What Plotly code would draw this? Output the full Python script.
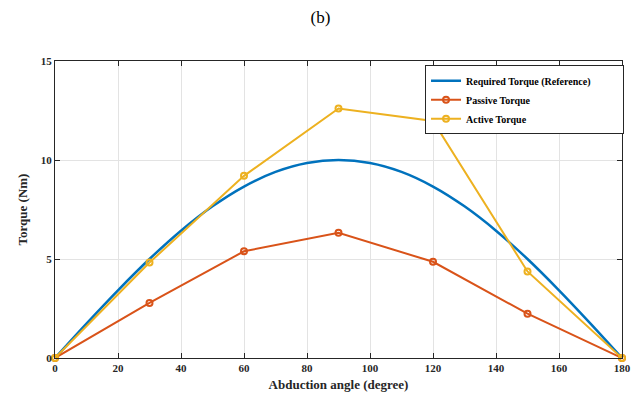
import plotly.graph_objects as go

# Data
ref_angle = [0, 10, 20, 30, 40, 50, 60, 70, 80, 90, 100, 110, 120, 130, 140, 150, 160, 170, 180]
ref_torque = [0, 1.74, 3.42, 5.0, 6.43, 7.66, 8.66, 9.40, 9.85, 10.0, 9.85, 9.40, 8.66, 7.66, 6.43, 5.0, 3.42, 1.74, 0]

angles = [0, 30, 60, 90, 120, 150, 180]
passive_torque = [0, 2.78, 5.39, 6.32, 4.86, 2.24, 0]
active_torque = [0, 4.82, 9.2, 12.6, 11.97, 4.37, 0]

x_ticks = [0, 20, 40, 60, 80, 100, 120, 140, 160, 180]
y_ticks = [0, 5, 10, 15]

BLUE = "#0072BD"
ORANGE = "#D95319"
YELLOW = "#EDB120"
FONT = "Liberation Serif"

# The page body has an 8px margin, so the figure is sized to fit inside the window.
W, H = 625, 387

fig = go.Figure()
fig.add_trace(go.Scatter(
    x=ref_angle, y=ref_torque, mode="lines",
    name="<b>Required Torque (Reference)</b>" + "&nbsp;" * 11,
    line=dict(color=BLUE, width=2.5, shape="spline", smoothing=1.0),
    cliponaxis=False,
))
fig.add_trace(go.Scatter(
    x=angles, y=passive_torque, mode="lines+markers", name="<b>Passive Torque</b>",
    line=dict(color=ORANGE, width=2),
    marker=dict(symbol="circle-open", size=6, color=ORANGE, line=dict(width=2, color=ORANGE)),
    cliponaxis=False,
))
fig.add_trace(go.Scatter(
    x=angles, y=active_torque, mode="lines+markers", name="<b>Active Torque</b>",
    line=dict(color=YELLOW, width=2),
    marker=dict(symbol="circle-open", size=6, color=YELLOW, line=dict(width=2, color=YELLOW)),
    cliponaxis=False,
))

axis_common = dict(
    showline=True, linecolor="#262626", linewidth=1, mirror="ticks",
    ticks="inside", ticklen=5, tickcolor="#262626", tickwidth=1,
    showgrid=True, gridcolor="#E3E3E3", gridwidth=1, zeroline=False,
    tickfont=dict(family=FONT, size=11, color="#262626"),
    automargin=False,
)

fig.update_layout(
    width=W, height=H,
    margin=dict(l=47, r=11, t=53, b=37, autoexpand=False),
    paper_bgcolor="white", plot_bgcolor="white",
    font=dict(family=FONT, color="#262626"),
    title=dict(text="(b)", x=0.5, xanchor="center", y=1 - 9 / H, yanchor="middle",
               font=dict(family=FONT, size=17, color="black")),
    xaxis=dict(range=[0, 180], tickvals=x_ticks, ticktext=[f"<b>{v}</b>" for v in x_ticks],
               title=dict(text="<b>Abduction angle (degree)</b>", font=dict(family=FONT, size=13), standoff=6),
               **axis_common),
    yaxis=dict(range=[0, 15], tickvals=y_ticks, ticktext=[f"<b>{v}</b>" for v in y_ticks],
               title=dict(text="<b>Torque (Nm)</b>", font=dict(family=FONT, size=13), standoff=10),
               **axis_common),
    legend=dict(x=0.6526, y=0.986, xanchor="left", yanchor="top",
                bgcolor="white", bordercolor="#262626", borderwidth=1,
                font=dict(family=FONT, size=10, color="black"),
                itemwidth=30, tracegroupgap=0),
    showlegend=True,
)

fig.write_html("out.html")
